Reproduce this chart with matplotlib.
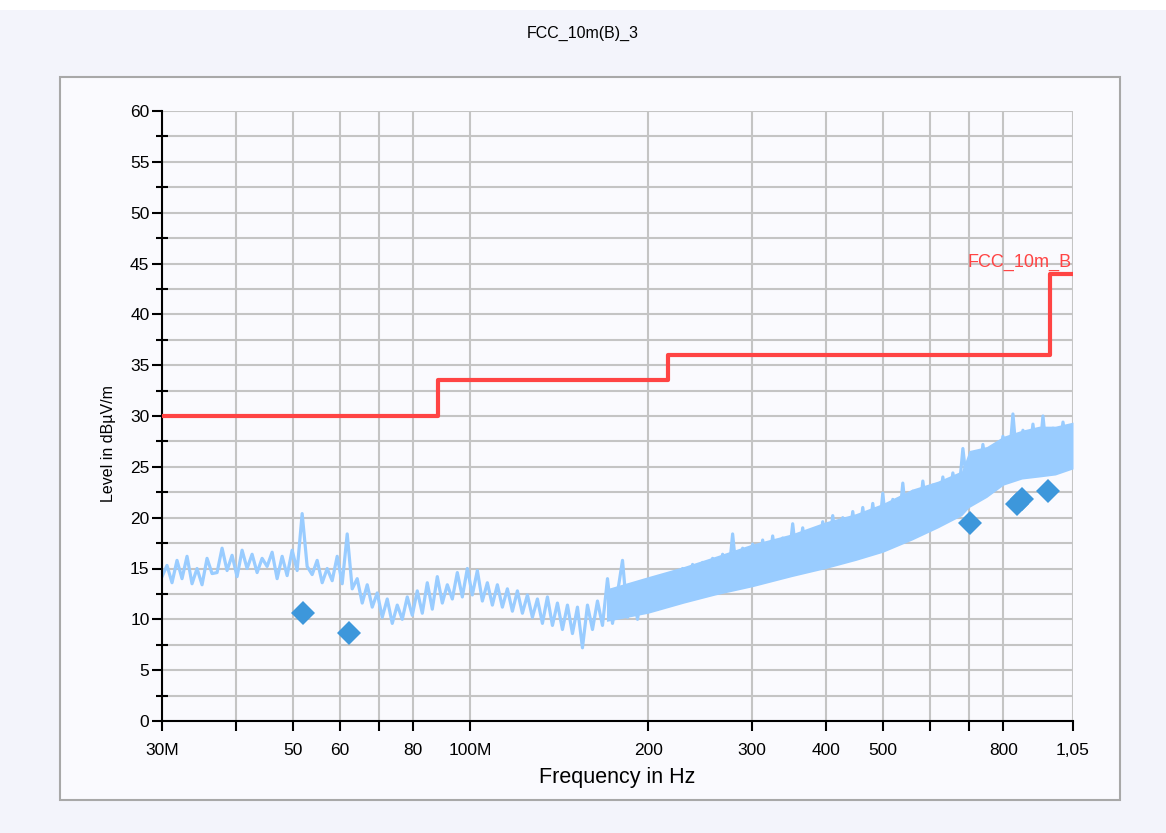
import numpy as np
import matplotlib
matplotlib.use("Agg")
import matplotlib.pyplot as plt
from matplotlib.patches import Rectangle

plt.rcParams['font.family'] = ['Liberation Sans', 'DejaVu Sans']

# measured trace, read at equal log-frequency steps from 30 MHz to 1.05 GHz (dBuV/m)
trace_level = [
    14.2, 15.3, 13.6, 15.8, 14.0, 16.2, 13.5, 15.0, 13.4, 16.0, 14.5,
    14.6, 17.0, 14.8, 16.3, 14.2, 16.8, 15.0, 16.4, 14.6, 16.0,
    15.2, 16.6, 14.0, 16.2, 14.3, 16.8, 14.8,
    20.4,
    15.2, 14.4, 15.8, 13.6, 15.0, 13.8,
    16.2, 13.5, 18.4, 13.0,
    14.0, 11.6, 13.4, 11.2, 12.6,
    10.2, 12.0, 9.6, 11.4, 10.0, 12.2,
    10.4, 12.8, 10.6, 13.6, 11.0, 14.2, 11.6, 13.4,
    12.0, 14.6, 12.2, 15.0,
    12.4, 14.8, 11.8, 13.6, 11.4,
    13.4, 11.2, 13.0, 10.8, 12.8, 10.6,
    12.4, 10.2, 12.0, 9.6, 12.2, 9.4,
    11.6, 9.0, 11.4, 8.6, 11.2, 7.2,
    11.4, 9.0, 11.8, 9.4, 14.0, 9.6,
    12.6, 15.8, 10.2, 13.0, 10.0, 13.6,
    10.8, 14.0, 11.0, 14.2, 11.6, 14.6,
    11.8, 15.0, 12.2, 15.4, 12.4, 15.6,
    12.8, 16.0, 12.8, 16.4, 13.2, 18.4,
    13.4, 17.0, 13.6, 17.4, 14.0, 17.8,
    14.2, 18.2, 14.4, 18.0, 14.8, 19.4,
    15.0, 19.0, 15.2, 18.8, 15.6, 19.6,
    15.8, 20.2, 16.0, 20.0, 16.4, 20.6,
    16.6, 21.0, 17.0, 21.4, 17.2, 22.4,
    17.6, 21.8, 18.0, 23.4, 18.4, 22.6,
    18.6, 23.6, 19.6, 23.2, 20.0, 24.0,
    20.4, 24.4, 21.4, 26.8, 22.4, 26.2,
    22.0, 27.2, 23.4, 26.8, 24.0, 28.0,
    24.2, 30.2, 24.4, 28.6, 24.8, 29.2, 24.6,
    30.0, 25.0, 28.8, 25.4, 29.4, 26.0, 27.0,
]
trace_freq = np.geomspace(30e6, 1.05e9, len(trace_level))

# envelope of the dense part of the sweep (170 MHz .. 1.05 GHz)
band_freq = [170e6, 200e6, 230e6, 260e6, 300e6, 350e6, 400e6, 450e6, 500e6,
             560e6, 620e6, 680e6, 700e6, 750e6, 800e6, 860e6, 920e6, 980e6, 1.05e9]
band_min = [9.8, 10.6, 11.6, 12.4, 13.2, 14.2, 15.0, 15.8, 16.6,
            17.8, 19.0, 20.2, 21.0, 22.0, 23.2, 23.8, 24.0, 24.2, 24.8]
band_max = [13.0, 14.2, 15.2, 16.2, 17.4, 18.4, 19.6, 20.4, 21.4,
            22.8, 23.6, 24.6, 26.6, 27.0, 28.0, 28.6, 29.0, 29.0, 29.4]

# final (quasi-peak) measurements
final_freq = [52.0e6, 62.2e6, 703e6, 845e6, 862e6, 952e6]
final_level = [10.6, 8.7, 19.5, 21.3, 21.8, 22.6]

# FCC 10 m class B limit
limit_freq = [30e6, 88e6, 88e6, 216e6, 216e6, 960e6, 960e6, 1.05e9]
limit_level = [30, 30, 33.5, 33.5, 36, 36, 44, 44]

xtick_vals = [30e6, 40e6, 50e6, 60e6, 70e6, 80e6, 100e6, 200e6, 300e6,
              400e6, 500e6, 600e6, 700e6, 800e6, 1.05e9]
xtick_labels = ["30M", "", "50", "60", "", "80", "100M", "200", "300",
                "400", "500", "", "", "800", "1,05"]

fig = plt.figure(figsize=(11.66, 8.33), dpi=100)
fig.patch.set_facecolor('#F3F4FB')
fig.patches.append(Rectangle((0, 1 - 10 / 833), 1, 10 / 833, transform=fig.transFigure,
                             facecolor='white', edgecolor='none', zorder=-10))
fig.patches.append(Rectangle((60 / 1166, 1 - 800 / 833), 1060 / 1166, 723 / 833,
                             transform=fig.transFigure, facecolor='#FAFAFE',
                             edgecolor='#A8A8A8', linewidth=1.5, zorder=-10))

fig.text(0.5, 1 - 33 / 833, "FCC_10m(B)_3", ha='center', va='center', fontsize=11.5)

ax = fig.add_axes([162 / 1166, 1 - 721 / 833, 911 / 1166, 610 / 833])
ax.set_facecolor('none')
ax.set_xscale('log')
ax.set_xlim(30e6, 1.05e9)
ax.set_ylim(0, 60)

trace_col = '#99CCFF'
ax.fill_between(band_freq, band_min, band_max, color=trace_col, lw=0, zorder=2)
ax.plot(trace_freq, trace_level, color=trace_col, lw=2.3, zorder=2)

ax.plot(limit_freq, limit_level, color='#FF4444', lw=3, zorder=3)
ax.text(1.045e9, 44.3, "FCC_10m_B", color='#FF4444', ha='right', va='bottom', fontsize=13)

ax.plot(final_freq, final_level, 'D', color='#3D97DB', markersize=12, zorder=4,
        markeredgewidth=0)

ax.set_xticks(xtick_vals)
ax.set_xticklabels(xtick_labels)
ax.xaxis.set_minor_locator(matplotlib.ticker.NullLocator())
ax.set_yticks(np.arange(0, 61, 5))
ax.set_yticks(np.arange(2.5, 60, 5), minor=True)

ax.grid(True, which='both', color='#C4C4C4', lw=1.5, zorder=0)
ax.set_axisbelow(True)
for side in ('top', 'right'):
    ax.spines[side].set_visible(False)
for side in ('left', 'bottom'):
    ax.spines[side].set_linewidth(1.5)

ax.tick_params(axis='x', which='major', direction='out', length=7, width=1.5,
               labelsize=12.5, pad=9)
ax.tick_params(axis='y', which='major', direction='out', length=7, width=1.5,
               labelsize=12.5, pad=2)
ax.tick_params(axis='y', which='minor', direction='inout', length=9, width=1.5)

ax.set_xlabel("Frequency in Hz", fontsize=15.5, labelpad=6)
ax.set_ylabel("Level in dBµV/m", fontsize=11.5)
ax.yaxis.set_label_coords(-0.05, 0.454)

fig.savefig("out.png", dpi=100, facecolor=fig.get_facecolor())
